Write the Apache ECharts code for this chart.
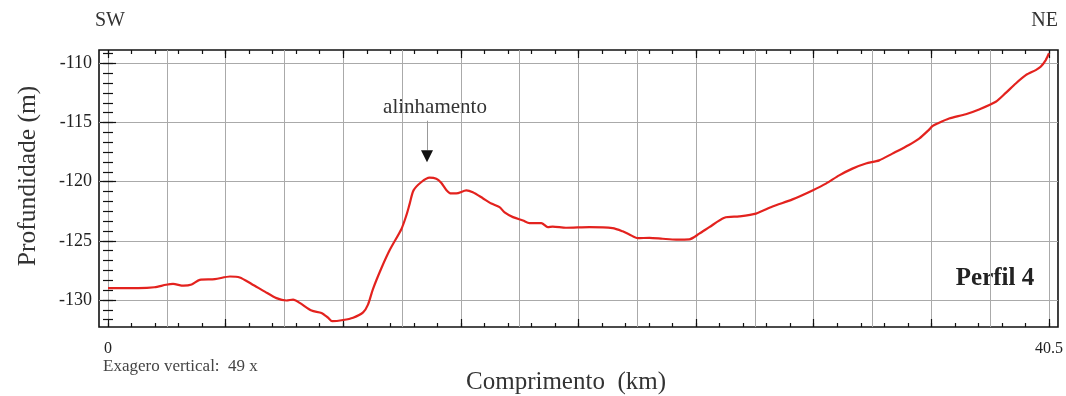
<!DOCTYPE html>
<html><head><meta charset="utf-8">
<script src="https://cdn.jsdelivr.net/npm/echarts@6/dist/echarts.min.js"></script>
<style>html,body{margin:0;padding:0;background:#fff}#c{width:1066px;height:396px}</style>
</head><body><div id="c"></div>
<script>
// ---- data ----
const distanceKm = [0,1.3,2.0,2.5,2.8,3.25,3.6,3.95,4.6,5.25,5.67,6.18,6.75,7.25,7.68,7.97,8.25,8.76,9.19,9.47,9.65,10.12,10.55,10.98,11.19,11.4,11.77,12.12,12.63,12.84,12.98,13.15,13.49,13.84,14.13,14.34,14.56,14.77,14.99,15.42,15.7,16.13,16.5,16.85,17.07,17.43,17.86,18.14,18.65,18.93,19.14,19.71,20.72,21.72,22.15,22.44,22.8,23.3,23.87,24.45,25.02,25.45,25.88,26.53,27.17,27.89,28.6,29.46,30.32,30.9,31.47,32.04,32.62,33.19,33.76,34.47,34.91,35.34,35.48,35.7,36.2,36.92,37.49,38.21,38.64,39.07,39.5,39.93,40.14,40.36,40.5];
const depthM = [-129.0,-129.0,-128.93,-128.72,-128.65,-128.8,-128.7,-128.3,-128.25,-128.02,-128.1,-128.65,-129.3,-129.85,-130.05,-129.97,-130.25,-130.9,-131.1,-131.5,-131.8,-131.7,-131.5,-131.05,-130.4,-129.1,-127.3,-125.8,-124.0,-122.86,-121.9,-120.74,-120.03,-119.66,-119.75,-120.1,-120.7,-121.0,-121.0,-120.74,-120.9,-121.4,-121.85,-122.15,-122.6,-123.0,-123.28,-123.5,-123.5,-123.85,-123.8,-123.9,-123.85,-123.93,-124.2,-124.47,-124.78,-124.75,-124.83,-124.9,-124.88,-124.4,-123.85,-123.05,-122.94,-122.7,-122.1,-121.5,-120.74,-120.17,-119.47,-118.9,-118.47,-118.2,-117.63,-116.9,-116.36,-115.6,-115.31,-115.08,-114.66,-114.3,-113.9,-113.25,-112.5,-111.7,-111.0,-110.57,-110.29,-109.72,-109.15];
const yTickLabels = [-130,-125,-120,-115,-110];
const xTickLabels = [0, 40.5];
const profileLength = 40.5;
const arrowKm = 13.73;

// ---- tick positions ----
const xGrid = Array.from({length:17},(_,i)=>i*profileLength/16);
const xMajor = Array.from({length:9},(_,i)=>i*profileLength/8);
const xMinor = Array.from({length:41},(_,i)=>i*profileLength/40);
const yMinor = Array.from({length:30},(_,i)=>-109.1666667 - i*5/6).filter(v=>v>-132.29);

const X_MIN = -0.387, X_MAX = 40.887, Y_MIN = -132.29, Y_MAX = -108.87;
const FONT = 'Liberation Serif';
const tickStyle = {color:'#111', width:1.2};

function xAx(pos, vals, len, extra){
  return Object.assign({type:'value', gridIndex:0, position:pos, min:X_MIN, max:X_MAX,
    axisLine:{show:false},
    axisTick:{show:len>0, inside:true, length:len, customValues:vals, lineStyle:tickStyle},
    axisLabel:{show:false}, splitLine:{show:false}}, extra||{});
}
function yAx(pos, vals, len, extra){
  return Object.assign({type:'value', gridIndex:0, position:pos, min:Y_MIN, max:Y_MAX,
    axisLine:{show:false},
    axisTick:{show:len>0, inside:true, length:len, customValues:vals, lineStyle:tickStyle},
    axisLabel:{show:false}, splitLine:{show:false}}, extra||{});
}

const chart = echarts.init(document.getElementById('c'), null, {renderer:'canvas'});
chart.setOption({
  animation:false,
  backgroundColor:'#fff',
  grid:{left:99, right:7, top:50, bottom:69, show:true, borderColor:'#111', borderWidth:1.6, backgroundColor:'transparent'},
  xAxis:[
    xAx('bottom', xMajor, 8, {axisLabel:{show:true, customValues:xTickLabels, margin:14, fontFamily:FONT, fontSize:16, color:'#222',
      formatter:v=>String(v)}}),
    xAx('bottom', xMinor, 4),
    xAx('top', xMajor, 8),
    xAx('top', xMinor, 4),
    xAx('bottom', xGrid, 0, {axisTick:{show:false, customValues:xGrid}, splitLine:{show:true, lineStyle:{color:'#aaa', width:1}}})
  ],
  yAxis:[
    yAx('left', yTickLabels, 8, {axisLabel:{show:true, customValues:yTickLabels, margin:7, fontFamily:FONT, fontSize:18, color:'#222'},
      splitLine:{show:true, lineStyle:{color:'#aaa', width:1}}}),
    yAx('left', yMinor, 5),
    yAx('right', yTickLabels, 8),
    yAx('right', yMinor, 5)
  ],
  series:[{
    type:'line', xAxisIndex:0, yAxisIndex:0,
    data: distanceKm.map((d,i)=>[d, depthM[i]]),
    showSymbol:false, smooth:0.25,
    lineStyle:{color:'#e3221e', width:2.2},
    markPoint:{symbol:'path://M0,0 L10,0 L5,10 Z', symbolSize:[12,12], silent:true,
      itemStyle:{color:'#111'}, label:{show:false},
      data:[{coord:[arrowKm, -117.86]}]},
    markLine:{symbol:'none', silent:true, label:{show:false}, lineStyle:{color:'#999', width:1, type:'solid'},
      data:[[{coord:[arrowKm, -114.85]},{coord:[arrowKm, -117.35]}]]}
  }],
  graphic:[
    {type:'text', left:95, top:11, style:{text:'SW', font:'20px "Liberation Serif"', fill:'#333'}},
    {type:'text', right:8, top:11, style:{text:'NE', font:'20px "Liberation Serif"', fill:'#333'}},
    {type:'text', x:435, y:107, style:{text:'alinhamento', font:'21px "Liberation Serif"', fill:'#333', textAlign:'center', textVerticalAlign:'middle'}},
    {type:'text', x:995, y:279, style:{text:'Perfil 4', font:'bold 25px "Liberation Serif"', fill:'#222', textAlign:'center', textVerticalAlign:'middle'}},
    {type:'text', x:103, y:367, style:{text:'Exagero vertical:  49 x', font:'17px "Liberation Serif"', fill:'#444', textAlign:'left', textVerticalAlign:'middle'}},
    {type:'text', x:566, y:382, style:{text:'Comprimento  (km)', font:'25px "Liberation Serif"', fill:'#333', textAlign:'center', textVerticalAlign:'middle'}},
    {type:'text', x:28, y:176, rotation:Math.PI/2, style:{text:'Profundidade (m)', font:'25.5px "Liberation Serif"', fill:'#333', textAlign:'center', textVerticalAlign:'middle'}}
  ]
});
</script></body></html>
